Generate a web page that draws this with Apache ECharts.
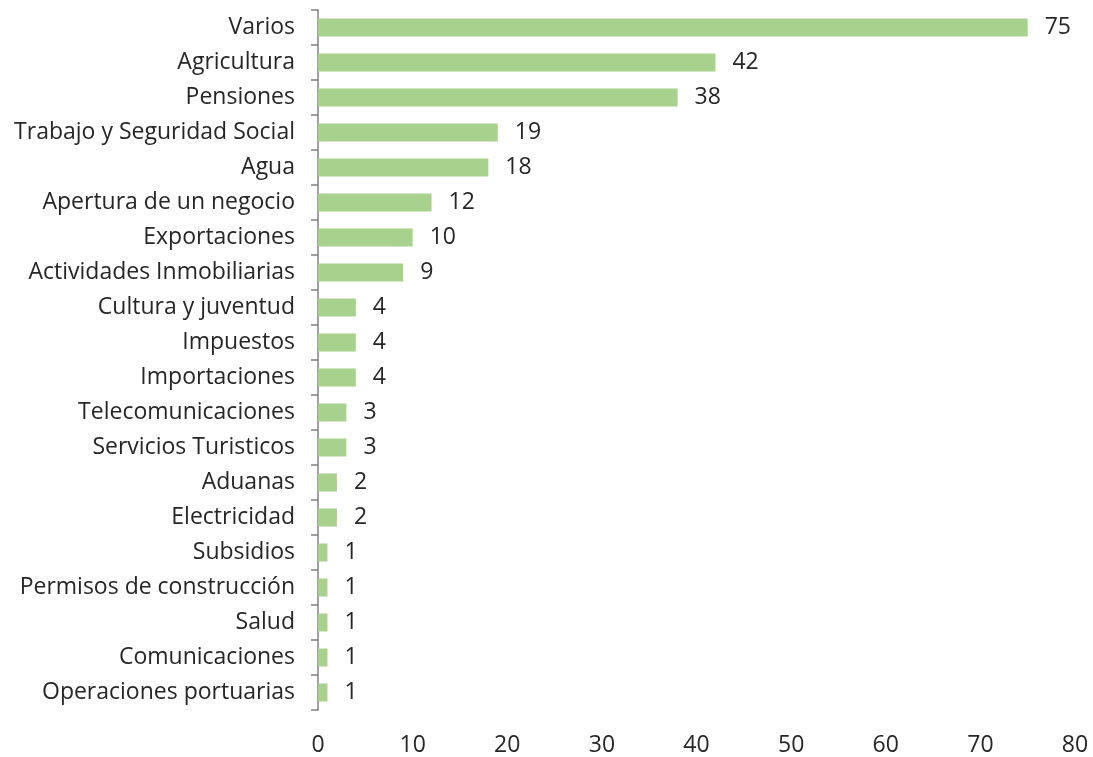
<!DOCTYPE html>
<html>
<head>
<meta charset="utf-8">
<script src="https://cdn.jsdelivr.net/npm/echarts@6/dist/echarts.min.js"></script>
<style>html,body{margin:0;padding:0;background:#fff}#c{width:1093px;height:757px}</style>
</head>
<body>
<div id="c"></div>
<script>
const categories = ["Varios","Agricultura","Pensiones","Trabajo y Seguridad Social","Agua","Apertura de un negocio","Exportaciones","Actividades Inmobiliarias","Cultura y juventud","Impuestos","Importaciones","Telecomunicaciones","Servicios Turisticos","Aduanas","Electricidad","Subsidios","Permisos de construcción","Salud","Comunicaciones","Operaciones portuarias"];
const values = [75,42,38,19,18,12,10,9,4,4,4,3,3,2,2,1,1,1,1,1];
const xTicks = [0,10,20,30,40,50,60,70,80];

const chart = echarts.init(document.getElementById('c'));
const font = "'Open Sans', 'Noto Sans', sans-serif";
const fs = 23;
chart.setOption({
  animation: false,
  grid: {left: 318, right: 18, top: 10, bottom: 44, containLabel: false},
  xAxis: {
    type: 'value', min: xTicks[0], max: xTicks[xTicks.length-1], interval: 10,
    axisLine: {show: false}, axisTick: {show: false}, splitLine: {show: false},
    axisLabel: {fontSize: fs, color: '#262626', fontFamily: font, margin: 24}
  },
  yAxis: {
    type: 'category', data: categories, inverse: true,
    axisLine: {show: true, lineStyle: {color: '#808080', width: 1.5}},
    axisTick: {show: true, length: 7, lineStyle: {color: '#808080', width: 1.5}},
    axisLabel: {fontSize: fs, color: '#262626', fontFamily: font, margin: 23, padding: [0, 0, 3, 0]}
  },
  series: [{
    type: 'bar', data: values, barWidth: 18,
    itemStyle: {color: '#a9d18e'},
    label: {show: true, position: 'right', distance: 17, fontSize: fs, color: '#262626', fontFamily: font, padding: [0, 0, 3, 0]}
  }]
});
</script>
</body>
</html>
